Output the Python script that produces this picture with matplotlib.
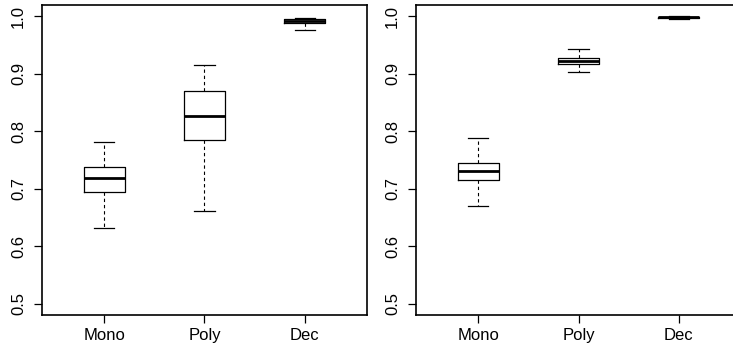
import matplotlib
matplotlib.use("Agg")
import matplotlib.pyplot as plt

plt.rcParams['font.family'] = ['Liberation Sans', 'DejaVu Sans']

labels = ["Mono", "Poly", "Dec"]

# left panel: (whisker low, Q1, median, Q3, whisker high)
left_low = [0.631, 0.662, 0.976]
left_q1 = [0.695, 0.7855, 0.988]
left_med = [0.719, 0.827, 0.993]
left_q3 = [0.737, 0.871, 0.995]
left_high = [0.781, 0.9155, 0.998]

# right panel
right_low = [0.670, 0.904, 0.996]
right_q1 = [0.7154, 0.917, 0.998]
right_med = [0.731, 0.923, 0.999]
right_q3 = [0.745, 0.927, 0.9995]
right_high = [0.788, 0.943, 1.0]

yticks = [0.5, 0.6, 0.7, 0.8, 0.9, 1.0]


def make_stats(low, q1, med, q3, high):
    stats = []
    for i in range(len(labels)):
        stats.append({"whislo": low[i], "q1": q1[i], "med": med[i],
                      "q3": q3[i], "whishi": high[i], "label": labels[i]})
    return stats


def draw_panel(ax, stats):
    ax.bxp(stats, positions=[1, 2, 3], widths=0.41, showfliers=False,
           boxprops=dict(color='black', linewidth=0.9),
           medianprops=dict(color='black', linewidth=2.0, solid_capstyle='butt'),
           whiskerprops=dict(color='black', linewidth=0.8, linestyle=(0, (3, 2.6))),
           capprops=dict(color='black', linewidth=0.9),
           capwidths=0.205)
    ax.set_xlim(0.38, 3.62)
    ax.set_ylim(0.48, 1.02)
    ax.set_yticks(yticks)
    ax.set_yticklabels(["0.5", "0.6", "0.7", "0.8", "0.9", "1.0"],
                       rotation=90, va='center')
    ax.set_xticks([1, 2, 3])
    ax.set_xticklabels(labels)
    ax.tick_params(axis='both', length=5.5, width=0.9, labelsize=12,
                   direction='out', colors='black')
    ax.tick_params(axis='y', pad=6)
    ax.tick_params(axis='x', pad=4)
    for s in ax.spines.values():
        s.set_linewidth(1.2)


fig = plt.figure(figsize=(7.33, 3.47), dpi=100)
W, H = 733.0, 347.0
ax1 = fig.add_axes([42 / W, 1 - 315 / H, 325 / W, 310 / H])
ax2 = fig.add_axes([416 / W, 1 - 315 / H, 325 / W, 310 / H])

draw_panel(ax1, make_stats(left_low, left_q1, left_med, left_q3, left_high))
draw_panel(ax2, make_stats(right_low, right_q1, right_med, right_q3, right_high))

fig.savefig("out.png", dpi=100)
